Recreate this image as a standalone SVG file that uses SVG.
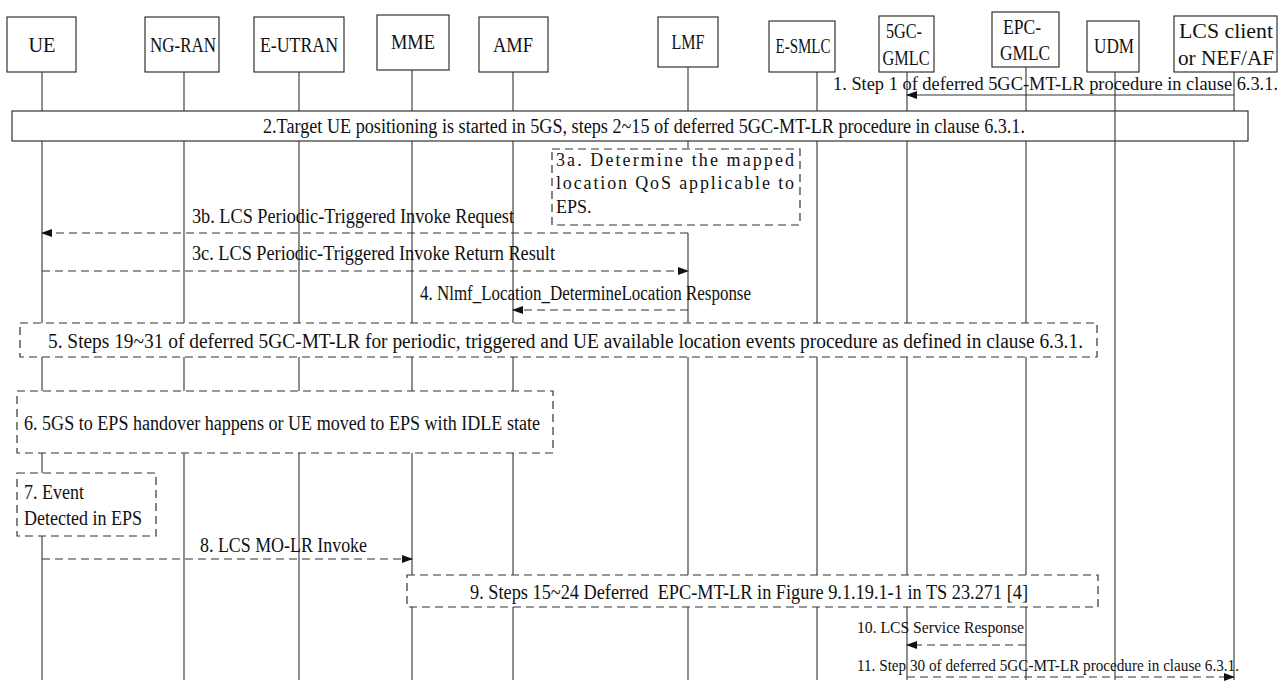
<svg xmlns="http://www.w3.org/2000/svg" width="1287" height="685" viewBox="0 0 1287 685">
<style>
.box{fill:#fff;stroke:#333;stroke-width:1.2}
.dbox{fill:#fff;stroke:#333;stroke-width:1.2;stroke-dasharray:8 5}
.life{stroke:#444;stroke-width:1.2;fill:none}
.msg{stroke:#333;stroke-width:1.2;fill:none}
.dmsg{stroke:#333;stroke-width:1.2;fill:none;stroke-dasharray:8 5}
text{font-family:"Liberation Serif","Times New Roman",serif;font-size:20px;fill:#111}
.c{text-anchor:middle}
.s{font-size:17px}
.q{font-size:18px}
</style>
<defs>
<marker id="ah" markerWidth="11" markerHeight="9" refX="10" refY="4" orient="auto" markerUnits="userSpaceOnUse">
<path d="M0,0 L11,4 L0,8 z" fill="#111"/>
</marker>
</defs>
<g id="lifelines">
<line class="life" x1="42" y1="72" x2="42" y2="680"/>
<line class="life" x1="184" y1="72" x2="184" y2="680"/>
<line class="life" x1="299" y1="72" x2="299" y2="680"/>
<line class="life" x1="412" y1="70" x2="412" y2="680"/>
<line class="life" x1="513" y1="72" x2="513" y2="680"/>
<line class="life" x1="688" y1="67" x2="688" y2="148"/>
<line class="life" x1="688" y1="233" x2="688" y2="680"/>
<line class="life" x1="817" y1="72" x2="817" y2="680"/>
<line class="life" x1="907" y1="72" x2="907" y2="680"/>
<line class="life" x1="1026" y1="67" x2="1026" y2="680"/>
<line class="life" x1="1234" y1="72" x2="1234" y2="680"/>
</g>
<g id="UE"><rect class="box" x="7" y="17" width="69" height="55"/><text class="c" x="42" y="52" textLength="27" lengthAdjust="spacingAndGlyphs">UE</text></g>
<g id="NG-RAN"><rect class="box" x="145" y="17" width="74" height="55"/><text class="c" x="183" y="52" textLength="66" lengthAdjust="spacingAndGlyphs">NG-RAN</text></g>
<g id="E-UTRAN"><rect class="box" x="254" y="17" width="90" height="55"/><text class="c" x="299" y="52" textLength="78" lengthAdjust="spacingAndGlyphs">E-UTRAN</text></g>
<g id="MME"><rect class="box" x="377" y="15" width="72" height="55"/><text class="c" x="413" y="49" textLength="44" lengthAdjust="spacingAndGlyphs">MME</text></g>
<g id="AMF"><rect class="box" x="479" y="17" width="69" height="55"/><text class="c" x="513" y="52" textLength="40" lengthAdjust="spacingAndGlyphs">AMF</text></g>
<g id="LMF"><rect class="box" x="658" y="17" width="60" height="50"/><text class="c" x="688" y="49" textLength="33" lengthAdjust="spacingAndGlyphs">LMF</text></g>
<g id="E-SMLC"><rect class="box" x="769" y="21" width="66" height="51"/><text class="c" x="803" y="53" textLength="55" lengthAdjust="spacingAndGlyphs">E-SMLC</text></g>
<g id="5GC-GMLC"><rect class="box" x="879" y="16" width="55" height="56"/><text class="c" x="904" y="38" textLength="36" lengthAdjust="spacingAndGlyphs">5GC-</text><text class="c" x="906" y="65" textLength="47" lengthAdjust="spacingAndGlyphs">GMLC</text></g>
<g id="EPC-GMLC"><rect class="box" x="992" y="12" width="67" height="55"/><text class="c" x="1022" y="34" textLength="38" lengthAdjust="spacingAndGlyphs">EPC-</text><text class="c" x="1025" y="60" textLength="50" lengthAdjust="spacingAndGlyphs">GMLC</text></g>
<g id="UDM"><rect class="box" x="1087" y="21" width="52" height="51"/><text class="c" x="1114" y="53" textLength="40" lengthAdjust="spacingAndGlyphs">UDM</text></g>
<g id="LCS-client"><rect class="box" x="1174" y="16" width="103" height="56"/><text class="c" x="1226" y="38" textLength="94" lengthAdjust="spacingAndGlyphs">LCS client</text><text class="c" x="1226" y="65" textLength="96" lengthAdjust="spacingAndGlyphs">or NEF/AF</text></g>
<g id="step2"><rect class="box" x="12" y="111" width="1236" height="30"/><text x="263" y="133" textLength="762" lengthAdjust="spacingAndGlyphs">2.Target UE positioning is started in 5GS, steps 2~15 of deferred 5GC-MT-LR procedure in clause 6.3.1.</text></g>
<g id="step3a"><rect class="dbox" x="552" y="149" width="248" height="76"/>
<text class="q" x="556" y="166" textLength="238" lengthAdjust="spacing">3a. Determine the mapped</text>
<text class="q" x="556" y="189" textLength="238" lengthAdjust="spacing">location QoS applicable to</text>
<text class="q" x="556" y="213">EPS.</text></g>
<g id="step5"><rect class="dbox" x="20" y="323" width="1077" height="34"/><text x="48" y="348" textLength="1035" lengthAdjust="spacingAndGlyphs">5. Steps 19~31 of deferred 5GC-MT-LR for periodic, triggered and UE available location events procedure as defined in clause 6.3.1.</text></g>
<g id="step6"><rect class="dbox" x="17" y="391" width="536" height="62"/><text x="24" y="430" textLength="516" lengthAdjust="spacingAndGlyphs">6. 5GS to EPS handover happens or UE moved to EPS with IDLE state</text></g>
<g id="step7"><rect class="dbox" x="17" y="473" width="139" height="63"/><text x="24" y="499" textLength="60" lengthAdjust="spacingAndGlyphs">7. Event</text><text x="24" y="525" textLength="118" lengthAdjust="spacingAndGlyphs">Detected in EPS</text></g>
<g id="step9"><rect class="dbox" x="407" y="575" width="691" height="32"/><text x="470" y="599" textLength="558" lengthAdjust="spacingAndGlyphs" style="white-space:pre">9. Steps 15~24 Deferred  EPC-MT-LR in Figure 9.1.19.1-1 in TS 23.271 [4]</text></g>
<g id="udm-line"><line class="life" x1="1115" y1="72" x2="1115" y2="680"/></g>
<g id="connectors">
<line class="msg" x1="1234" y1="95" x2="907" y2="95" marker-end="url(#ah)"/>
<text x="833" y="90" textLength="445" lengthAdjust="spacingAndGlyphs" style="font-size:18px">1. Step 1 of deferred 5GC-MT-LR procedure in clause 6.3.1.</text>
<line class="dmsg" x1="688" y1="233" x2="42" y2="233" marker-end="url(#ah)"/>
<text x="192" y="223" textLength="322" lengthAdjust="spacingAndGlyphs">3b. LCS Periodic-Triggered Invoke Request</text>
<line class="dmsg" x1="42" y1="271" x2="688" y2="271" marker-end="url(#ah)"/>
<text x="192" y="260" textLength="363" lengthAdjust="spacingAndGlyphs">3c. LCS Periodic-Triggered Invoke Return Result</text>
<line class="dmsg" x1="688" y1="310" x2="513" y2="310" marker-end="url(#ah)"/>
<text x="420" y="300" textLength="331" lengthAdjust="spacingAndGlyphs">4. Nlmf_Location_DetermineLocation Response</text>
<line class="dmsg" x1="42" y1="559" x2="412" y2="559" marker-end="url(#ah)"/>
<text x="200" y="552" textLength="167" lengthAdjust="spacingAndGlyphs">8. LCS MO-LR Invoke</text>
<line class="dmsg" x1="1026" y1="645" x2="907" y2="645" marker-end="url(#ah)"/>
<text class="s" x="857" y="633" textLength="167" lengthAdjust="spacingAndGlyphs">10. LCS Service Response</text>
<line class="dmsg" x1="907" y1="677" x2="1234" y2="677" marker-end="url(#ah)"/>
<text class="s" x="857" y="671" textLength="382" lengthAdjust="spacingAndGlyphs">11. Step 30 of deferred 5GC-MT-LR procedure in clause 6.3.1.</text>
</g>
</svg>
